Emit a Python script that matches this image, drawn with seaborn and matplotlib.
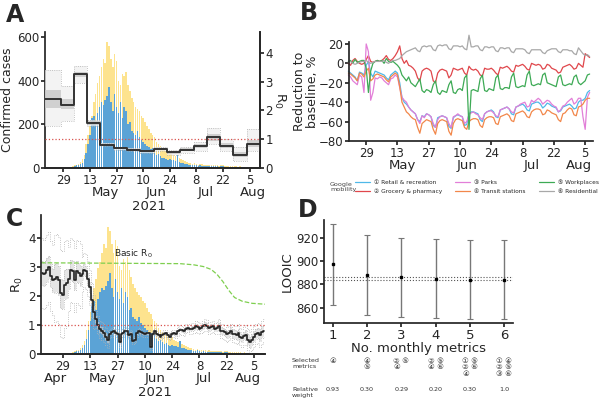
import numpy as np
import pandas as pd
import matplotlib
matplotlib.use("Agg")
import matplotlib.pyplot as plt
import matplotlib.transforms as mtransforms
from matplotlib.lines import Line2D
import seaborn as sns

sns.set_theme(style="ticks")
plt.rcParams["font.family"] = ["DejaVu Sans", "Noto Sans CJK JP"]

# x axis: day number counted from 1 Apr 2021 (= 0)
tick_days = [28, 42, 56, 70, 84, 98, 112, 126]
tick_labels = ["29", "13", "27", "10", "24", "8", "22", "5"]
month_labels = ["Apr", "May", "Jun", "Jul", "Aug"]
month_days_a = [28, 50, 77, 103, 128]
month_days_b = [28, 44, 73, 102, 123]
month_days_c = [24, 48, 75, 100, 123]

# daily confirmed cases, from 22 Apr (day 21)
cases_first_day = 21
cases_total = [0, 0, 1, 0, 2, 1, 3, 2, 4, 3,
               5, 4, 8, 12, 16, 20, 28, 40, 60, 110,
               150, 190, 240, 300, 340, 390, 420, 460, 500, 480,
               575, 560, 500, 460, 520, 490, 400, 380, 430, 420,
               440, 380, 350, 320, 300, 280, 270, 260, 240, 230,
               210, 190, 180, 160, 150, 140, 120, 110, 100, 90,
               85, 80, 70, 75, 65, 60, 55, 50, 45, 40,
               35, 30, 28, 25, 22, 20, 22, 18, 16, 20,
               18, 15, 16, 14, 12, 15, 13, 14, 12, 10,
               12, 15, 10, 9, 11, 8, 10, 7, 8, 6,
               7, 5, 6, 4, 5, 4, 3, 4, 3, 2, 3]
cases_blue = [0, 0, 1, 0, 2, 1, 2, 2, 3, 2,
              4, 3, 6, 8, 12, 15, 20, 25, 40, 70,
              110, 150, 230, 240, 200, 250, 280, 300, 290, 310,
              330, 370, 300, 260, 340, 280, 250, 300, 230, 280,
              260, 200, 210, 170, 160, 150, 170, 140, 130, 120,
              110, 100, 95, 85, 90, 70, 60, 62, 55, 45,
              48, 40, 38, 42, 35, 36, 32, 60, 28, 25,
              22, 20, 18, 16, 15, 14, 16, 12, 10, 12,
              11, 10, 9, 10, 8, 9, 8, 10, 7, 6,
              8, 9, 6, 5, 6, 5, 6, 4, 5, 4,
              4, 3, 3, 2, 3, 2, 2, 2, 2, 1, 1]

# panel A: weekly R0 with credible intervals
week_edges = [18.3, 26.5, 33.5, 40.5, 47.5, 54.5, 61.5, 68.5, 75.5, 82.5,
              89.5, 96.5, 103.5, 110.5, 117.5, 124.5, 131.5]
r0_week = [2.39, 2.19, 3.26, 1.56, 0.81, 0.69, 0.63, 0.58, 0.66, 0.54,
           0.63, 0.75, 1.06, 0.77, 0.46, 0.84]
r0_week_in_lo = [2.1, 2.05, 3.15, 1.5, 0.78, 0.66, 0.6, 0.55, 0.62, 0.5,
                 0.58, 0.68, 0.95, 0.68, 0.38, 0.72]
r0_week_in_hi = [2.7, 2.4, 3.35, 1.62, 0.84, 0.72, 0.66, 0.61, 0.7, 0.58,
                 0.68, 0.82, 1.17, 0.88, 0.56, 0.98]
r0_week_out_lo = [1.45, 1.65, 2.95, 1.45, 0.75, 0.64, 0.58, 0.53, 0.58, 0.46,
                  0.52, 0.6, 0.82, 0.58, 0.25, 0.58]
r0_week_out_hi = [3.4, 2.85, 3.55, 1.68, 0.87, 0.74, 0.68, 0.63, 0.74, 0.62,
                  0.74, 0.9, 1.4, 1.02, 0.72, 1.35]

# panel C: daily R0 from 18 Apr (day 17)
r0_first_day = 17
r0_daily = [2.8, 2.75, 2.8, 2.9, 3.0, 2.7, 2.55, 2.6, 2.65, 2.55,
            2.1, 2.05, 2.4, 2.45, 2.6, 2.9, 2.85, 2.55, 2.85, 2.8,
            2.7, 2.75, 2.9, 2.85, 2.6, 2.3, 1.85, 1.45, 1.2, 1.0,
            0.85, 0.8, 0.72, 0.6, 0.5, 0.7, 0.75, 0.8, 0.72, 0.7,
            0.4, 0.7, 0.72, 0.8, 0.78, 0.65, 0.7, 0.45, 0.5, 0.72,
            0.78, 0.75, 0.72, 0.7, 0.72, 0.72, 0.25, 0.7, 0.78, 0.68,
            0.65, 0.6, 0.65, 0.7, 0.72, 0.65, 0.6, 0.7, 0.72, 0.68,
            0.78, 0.84, 0.82, 0.78, 0.88, 0.9, 0.85, 0.88, 0.9, 0.95,
            0.92, 0.88, 0.9, 0.95, 1.0, 0.98, 0.9, 0.92, 0.95, 0.88,
            0.9, 0.95, 0.8, 0.78, 0.75, 0.68, 0.72, 0.8, 0.7, 0.68,
            0.65, 0.72, 0.6, 0.55, 0.62, 0.65, 0.5, 0.4, 0.5, 0.6,
            0.7, 0.72, 0.65, 0.75, 0.8]
# weekly half widths of the uncertainty around the daily R0
r0_spread_outer = [1.2, 1.5, 1.1, 0.6, 0.3, 0.15, 0.12, 0.12, 0.12, 0.12,
                   0.15, 0.18, 0.2, 0.25, 0.3, 0.35, 0.4]
r0_spread_inner = [0.4, 0.5, 0.35, 0.2, 0.12, 0.06, 0.05, 0.05, 0.05, 0.05,
                   0.06, 0.08, 0.1, 0.12, 0.15, 0.18, 0.2]
basic_r0_days = [16.7, 88, 95, 100, 104, 107, 110, 113, 116, 120, 125, 131.6]
basic_r0 = [3.15, 3.12, 3.08, 3.02, 2.92, 2.75, 2.5, 2.2, 1.95, 1.82, 1.75, 1.72]

# panel B: google mobility, daily from 21 Apr (day 20)
mob_first_day = 20
retail = [-8, -10, -12, -14, -18, -9, -10,
          -12, -2, 2, -10, -14, -8, -9,
          -10, -11, -12, -15, -17, -12, -10,
          -8, -10, -20, -35, -40, -42, -45,
          -48, -50, -52, -58, -60, -54, -55,
          -52, -53, -55, -64, -66, -56, -55,
          -54, -55, -56, -65, -67, -56, -54,
          -53, -54, -55, -64, -63, -52, -50,
          -50, -51, -52, -58, -60, -52, -50,
          -49, -48, -50, -55, -56, -48, -47,
          -46, -45, -47, -52, -53, -45, -44,
          -43, -42, -44, -48, -49, -42, -41,
          -40, -40, -42, -46, -44, -41, -42,
          -44, -45, -46, -50, -49, -45, -44,
          -43, -42, -44, -47, -46, -40, -38,
          -38, -36, -30, -28]
grocery = [0, -2, 3, 5, 2, 0, -1,
           0, 4, 8, 2, 1, 2, 3,
           2, 3, 5, 8, 4, 3, 5,
           8, 12, 18, 5, 0, 3, -2,
           -3, -5, -8, -15, -18, -8, -6,
           -5, -6, -8, -18, -20, -10, -7,
           -6, -7, -8, -15, -12, -5, -6,
           -7, -6, -5, -10, -12, -3, -6,
           -7, -6, -8, -12, -13, -5, -6,
           -6, -5, -7, -10, -12, -4, -5,
           -4, -3, -5, -8, -9, -2, -3,
           -2, -1, -3, -6, -7, 0, -1,
           -2, -1, -2, -6, -5, -1, -2,
           -5, -6, -7, -10, -9, -4, -3,
           -2, -1, -3, -6, -5, 0, -2,
           -4, 10, 8, 6]
parks = [-12, -14, -18, -20, -22, -12, -14,
         -30, 20, 12, -38, -30, -15, -16,
         -14, -15, -18, -20, -22, -16, -15,
         -12, -14, -25, -35, -38, -40, -45,
         -48, -50, -52, -58, -62, -54, -56,
         -52, -53, -55, -62, -66, -58, -55,
         -54, -55, -56, -62, -66, -55, -54,
         -52, -54, -55, -62, -60, -53, -51,
         -50, -52, -53, -56, -58, -52, -50,
         -49, -49, -51, -54, -55, -48, -47,
         -46, -45, -47, -50, -51, -45, -44,
         -42, -41, -40, -45, -44, -38, -40,
         -38, -36, -38, -42, -40, -38, -39,
         -42, -44, -45, -50, -48, -44, -43,
         -40, -38, -36, -42, -40, -36, -36,
         -55, -68, -35, -30]
transit = [-10, -11, -13, -15, -18, -10, -11,
           -14, -8, -5, -18, -16, -12, -11,
           -12, -13, -14, -17, -19, -14, -12,
           -10, -12, -24, -40, -45, -50, -52,
           -55, -57, -58, -66, -72, -62, -60,
           -58, -59, -60, -68, -73, -62, -59,
           -58, -59, -60, -70, -74, -62, -58,
           -57, -58, -59, -66, -68, -60, -58,
           -57, -57, -58, -64, -66, -58, -56,
           -55, -55, -56, -62, -63, -55, -54,
           -53, -52, -54, -59, -60, -52, -51,
           -50, -49, -51, -55, -56, -50, -48,
           -47, -47, -48, -53, -52, -48, -49,
           -51, -52, -53, -58, -60, -52, -51,
           -48, -46, -47, -53, -54, -45, -44,
           -42, -38, -36, -36]
workplaces = [2, 3, 0, 4, 1, 2, 3,
              3, -5, -30, -8, 0, 2, 3,
              2, 3, 0, 5, 2, 1, 2,
              0, -2, -5, -12, -15, -18, -14,
              -20, -22, -24, -20, -16, -28, -30,
              -27, -28, -30, -22, -18, -30, -32,
              -28, -29, -30, -22, -18, -30, -31,
              -27, -26, -28, -15, -12, -68, -28,
              -27, -28, -29, -16, -12, -28, -29,
              -26, -27, -28, -15, -12, -26, -27,
              -25, -25, -26, -14, -10, -24, -25,
              -24, -23, -24, -12, -8, -22, -23,
              -22, -21, -22, -12, -10, -20, -21,
              -22, -23, -24, -14, -12, -22, -23,
              -22, -21, -22, -14, -12, -20, -22,
              -20, -18, -12, -11]
residential = [1, 2, 0, -1, 0, 1, 2,
               2, 3, 1, 0, 1, 2, 2,
               2, 2, 3, 1, 0, 2, 3,
               3, 4, 5, 8, 10, 12, 13,
               14, 15, 16, 13, 12, 17, 18,
               17, 18, 18, 14, 13, 18, 19,
               18, 19, 19, 15, 14, 18, 18,
               18, 17, 18, 15, 14, 29, 17,
               17, 18, 18, 14, 13, 17, 17,
               16, 17, 17, 13, 12, 16, 16,
               15, 16, 16, 12, 11, 15, 15,
               15, 15, 14, 11, 10, 14, 14,
               14, 14, 14, 11, 10, 13, 14,
               15, 15, 15, 12, 11, 14, 14,
               14, 13, 13, 10, 9, 16, 13,
               10, 8, 9, 7]
mob_names = ["\u2460 Retail & recreation", "\u2461 Grocery & pharmacy", "\u2462 Parks",
             "\u2463 Transit stations", "\u2464 Workplaces", "\u2465 Residential"]
mob_colors = ["#4fb8e8", "#e0474c", "#e27fd8", "#f2874a", "#3daa55", "#a8a8a8"]

# panel D: model comparison
n_metrics = [1, 2, 3, 4, 5, 6]
looic = [897, 888, 886, 885, 884, 884]
looic_lo = [862, 854, 852, 851, 850, 850]
looic_hi = [932, 922, 920, 919, 918, 918]
looic_ref = [884, 886]
selected = ["\u2463", "\u2463\n\u2464", "\u2461 \u2464\n\u2463", "\u2461 \u2464\n\u2463 \u2465",
            "\u2460 \u2464\n\u2461 \u2465\n\u2463", "\u2460 \u2463\n\u2461 \u2464\n\u2462 \u2465"]
rel_weight = ["0.93", "0.30", "0.29", "0.20", "0.30", "1.0"]

YELLOW = "#fde38e"
BLUE = "#5ba3d6"
RED = "#d9534f"
TICK = 8.5
W, H = 600, 409


def rect(l, t, r, b):
    return [l / W, 1 - b / H, (r - l) / W, (b - t) / H]


def date_axis(ax, months, year_x=None):
    ax.set_xticks(tick_days)
    ax.set_xticklabels(tick_labels)
    ax.set_xticks(months, minor=True)
    ax.set_xticklabels(month_labels, minor=True)
    ax.tick_params(axis="x", which="major", labelsize=TICK, length=3, pad=1)
    ax.tick_params(axis="x", which="minor", labelsize=9.5, length=0, pad=13)
    if year_x is not None:
        ax.annotate("2021", xy=(year_x, 0), xycoords=("data", "axes fraction"),
                    xytext=(0, -23), textcoords="offset points",
                    ha="center", va="top", fontsize=9.5)


fig = plt.figure(figsize=(6, 4.09), dpi=100)

# ---------------- A
ax_a = fig.add_axes(rect(45, 32, 260, 168))
case_days = np.arange(cases_first_day, cases_first_day + len(cases_total))
sns.histplot(x=case_days, weights=cases_total, discrete=True, shrink=0.8,
             color=YELLOW, alpha=1, linewidth=0, ax=ax_a)
sns.histplot(x=case_days, weights=cases_blue, discrete=True, shrink=0.8,
             color=BLUE, alpha=1, linewidth=0, ax=ax_a)
ax_a.set_xlim(18.3, 131.5)
ax_a.set_ylim(0, 622)
ax_a.set_yticks([0, 200, 400, 600])
ax_a.set_ylabel("Confirmed cases", fontsize=9, labelpad=2)
ax_a.set_xlabel("")
ax_a.tick_params(axis="y", labelsize=TICK, length=3, pad=1)
date_axis(ax_a, month_days_a, 73)

ax_a2 = ax_a.twinx()
ax_a2.set_ylim(0, 622 / 131.6)
step = lambda v: list(v) + [v[-1]]
ax_a2.fill_between(week_edges, step(r0_week_out_lo), step(r0_week_out_hi), step="post",
                   color="#eeeeee", alpha=0.7, lw=0)
for v in (r0_week_out_lo, r0_week_out_hi):
    ax_a2.step(week_edges, step(v), where="post", color="#b0b0b0", lw=0.6, ls=":")
ax_a2.fill_between(week_edges, step(r0_week_in_lo), step(r0_week_in_hi), step="post",
                   color="#c8c8c8", alpha=0.8, lw=0)
ax_a2.step(week_edges, step(r0_week), where="post", color="#333333", lw=1.4)
ax_a2.axhline(1, color=RED, ls=":", lw=0.9)
ax_a2.set_yticks([0, 1, 2, 3, 4])
ax_a2.tick_params(axis="y", labelsize=TICK, length=3, pad=1)
ax_a2.set_ylabel("R$_0$", fontsize=9.5, rotation=-90, labelpad=10)
for a in (ax_a, ax_a2):
    a.spines["top"].set_visible(False)
ax_a2.spines["left"].set_visible(False)

# ---------------- B
ax_b = fig.add_axes(rect(349, 42, 593, 141))
mob_days = np.arange(mob_first_day, mob_first_day + len(retail))
mob = pd.DataFrame({"day": mob_days})
for name, vals in zip(mob_names, [retail, grocery, parks, transit, workplaces, residential]):
    mob[name] = vals
mob_long = mob.melt(id_vars="day", var_name="metric", value_name="change")
sns.lineplot(data=mob_long, x="day", y="change", hue="metric", hue_order=mob_names,
             palette=dict(zip(mob_names, mob_colors)), estimator=None, lw=0.9,
             legend=False, clip_on=False, ax=ax_b)
ax_b.set_xlim(20.3, 129.5)
ax_b.set_ylim(-80, 22)
ax_b.set_yticks([-80, -60, -40, -20, 0, 20])
ax_b.set_yticklabels(["\u221280", "\u221260", "\u221240", "\u221220", "0", "20"])
ax_b.tick_params(axis="y", labelsize=TICK, length=3, pad=1)
ax_b.set_xlabel("")
ax_b.set_ylabel("Reduction to\nbaseline, %", fontsize=9, labelpad=0, linespacing=0.95)
date_axis(ax_b, month_days_b)
sns.despine(ax=ax_b)

handles = [Line2D([], [], color=c, lw=0.9) for c in mob_colors]
fig.legend(handles, mob_names, ncol=3, loc="center left", frameon=False,
           bbox_to_anchor=(352 / W, 1 - 187 / H), fontsize=4.2, handlelength=2.6,
           handletextpad=0.6, columnspacing=2.3, borderpad=0, labelspacing=0.6)
fig.text(330 / W, 1 - 187 / H, "Google\nmobility", fontsize=4.6, va="center",
         ha="left", color="#444444", linespacing=1.2)

# ---------------- C
ax_c = fig.add_axes(rect(41, 215, 265, 354))
ax_c2 = ax_c.twinx()
sns.histplot(x=case_days, weights=cases_total, discrete=True, shrink=0.8,
             color=YELLOW, alpha=1, linewidth=0, ax=ax_c2)
sns.histplot(x=case_days, weights=cases_blue, discrete=True, shrink=0.8,
             color=BLUE, alpha=1, linewidth=0, ax=ax_c2)
ax_c2.set_ylim(0, 4.8 * 131.6)
ax_c2.set_yticks([])
ax_c2.set_ylabel("")
for s in ("top", "right", "left"):
    ax_c2.spines[s].set_visible(False)
ax_c.set_zorder(ax_c2.get_zorder() + 1)
ax_c.patch.set_visible(False)

r0_days = np.arange(r0_first_day, r0_first_day + len(r0_daily))
r0 = np.array(r0_daily)
sp_out = np.repeat(r0_spread_outer, 7)[:len(r0)]
sp_in = np.repeat(r0_spread_inner, 7)[:len(r0)]
ax_c.fill_between(r0_days, r0 - sp_in, r0 + sp_in, step="mid", color="#d5d5d5",
                  alpha=0.6, lw=0)
for v in (r0 - sp_out, r0 + sp_out, r0 - sp_in, r0 + sp_in):
    ax_c.step(r0_days, v, where="mid", color="#b3b3b3", lw=0.6, ls=":")
ax_c.step(r0_days, r0, where="mid", color="#222222", lw=1.2)
ax_c.axhline(1, color=RED, ls=":", lw=0.9)
ax_c.plot(basic_r0_days, basic_r0, color="#7fcf4f", ls="--", lw=0.9)
ax_c.text(64, 3.45, "Basic R$_0$", fontsize=6.5, ha="center", va="center")
ax_c.set_xlim(16.7, 131.6)
ax_c.set_ylim(0, 4.8)
ax_c.set_yticks([0, 1, 2, 3, 4])
ax_c.set_ylabel("R$_0$", fontsize=9.5, labelpad=2)
ax_c.tick_params(axis="y", labelsize=TICK, length=3, pad=1)
date_axis(ax_c, month_days_c, 75)
sns.despine(ax=ax_c)

# ---------------- D
ax_d = fig.add_axes(rect(324, 220, 513, 323))
lk = np.array(looic)
ax_d.errorbar(n_metrics, lk, yerr=[lk - np.array(looic_lo), np.array(looic_hi) - lk],
              fmt="s", ms=2.0, color="black", ecolor="#777777", elinewidth=1.0,
              capsize=2.0, capthick=0.8)
for v in looic_ref:
    ax_d.axhline(v, color="#555555", ls=":", lw=0.8)
ax_d.set_xlim(0.75, 6.25)
ax_d.set_ylim(847, 935)
ax_d.set_xticks(n_metrics)
ax_d.set_yticks([860, 880, 900, 920])
ax_d.tick_params(axis="y", labelsize=TICK, length=3, pad=1)
ax_d.tick_params(axis="x", labelsize=9.5, length=3, pad=1)
ax_d.set_xlabel("No. monthly metrics", fontsize=9.5, labelpad=0)
ax_d.set_ylabel("LOOIC", fontsize=9.5, labelpad=2)
sns.despine(ax=ax_d)

tr = mtransforms.blended_transform_factory(ax_d.transData, fig.transFigure)
for x, s, w in zip(n_metrics, selected, rel_weight):
    ax_d.text(x, 1 - 358 / H, s, transform=tr, fontsize=5.4, ha="center", va="top",
              multialignment="left", linespacing=1.05, color="#333333")
    ax_d.text(x, 1 - 387 / H, w, transform=tr, fontsize=4.6, ha="center", va="top",
              color="#333333")
fig.text(292 / W, 1 - 358 / H, "Selected\nmetrics", fontsize=4.6, ha="left", va="top",
         color="#333333", linespacing=1.3)
fig.text(292 / W, 1 - 387 / H, "Relative\nweight", fontsize=4.6, ha="left", va="top",
         color="#333333", linespacing=1.3)

# panel letters
for x, y, s in [(6, 3, "A"), (300, 1, "B"), (6, 207, "C"), (298, 198, "D")]:
    fig.text(x / W, 1 - y / H, s, fontsize=17, fontweight="bold", ha="left", va="top")

fig.savefig("out.png", dpi=100)
